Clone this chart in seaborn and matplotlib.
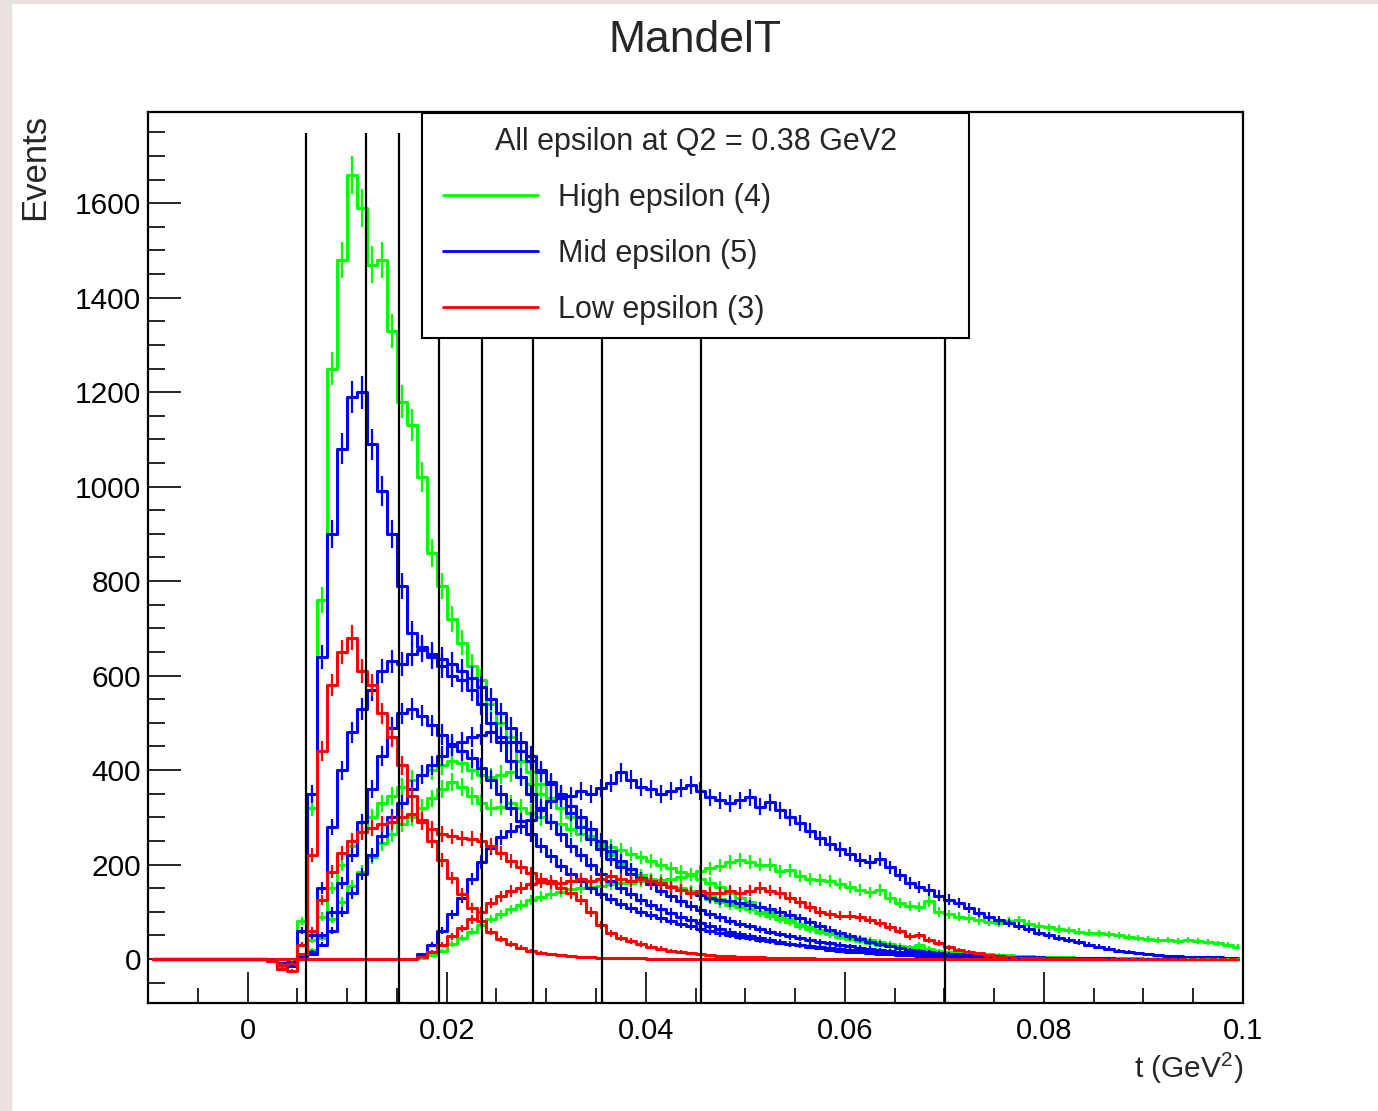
import numpy as np
import pandas as pd
import matplotlib
matplotlib.use('Agg')
import matplotlib.pyplot as plt
import seaborn as sns
from matplotlib.lines import Line2D
from matplotlib.legend_handler import HandlerLine2D
from matplotlib.patches import Rectangle
from matplotlib.ticker import MultipleLocator

sns.set_theme(style='ticks')
plt.rcParams['font.family'] = ['Liberation Sans', 'DejaVu Sans']
plt.rcParams['mathtext.default'] = 'regular'

# histogram bins: 0.001 GeV^2 wide, t from -0.01 to 0.1 (bins below 0 are empty)
t_centers = np.round(np.arange(-0.0095, 0.1, 0.001), 4)
empty_bins = [0] * 10

# High epsilon (4 settings)
high_1 = [0, 0, -5, -15, -10, 80, 320, 760, 1250, 1480,
          1660, 1590, 1470, 1480, 1330, 1180, 1130, 1020, 860, 790,
          720, 670, 620, 590, 540, 500, 470, 420, 395, 370,
          340, 320, 300, 280, 260, 240, 220, 200, 190, 178,
          170, 162, 155, 148, 142, 135, 128, 120, 115, 110,
          105, 100, 96, 85, 78, 70, 64, 58, 55, 50,
          46, 43, 40, 35, 30, 26, 24, 22, 20, 18,
          16, 14, 12, 11, 10, 9, 8, 7, 6, 5,
          5, 4, 4, 3, 3, 3, 2, 2, 2, 2,
          1, 1, 1, 1, 1, 1, 1, 1, 1, 1]
high_2 = [0, 0, -3, -10, -8, 10, 40, 90, 150, 200,
          240, 270, 300, 330, 345, 365, 380, 390, 400, 410,
          420, 415, 400, 390, 385, 390, 395, 385, 370, 350,
          335, 320, 300, 280, 260, 240, 222, 205, 190, 178,
          168, 160, 155, 150, 145, 140, 135, 128, 120, 112,
          105, 98, 92, 85, 78, 70, 64, 58, 52, 47,
          42, 38, 34, 30, 27, 24, 21, 19, 17, 15,
          13, 12, 10, 9, 8, 7, 6, 5, 5, 4,
          4, 3, 3, 3, 2, 2, 2, 2, 1, 1,
          1, 1, 1, 1, 1, 1, 1, 0, 0, 0]
high_3 = [0, 0, -3, -8, -5, 5, 20, 45, 85, 120,
          155, 185, 215, 245, 265, 285, 300, 320, 340, 360,
          375, 365, 345, 330, 320, 322, 330, 320, 310, 300,
          290, 285, 275, 265, 255, 245, 238, 230, 222, 215,
          208, 200, 192, 185, 178, 170, 162, 152, 140, 130,
          120, 110, 100, 92, 85, 75, 68, 62, 56, 52,
          48, 44, 40, 36, 32, 28, 25, 30, 22, 15,
          12, 11, 10, 9, 8, 7, 6, 6, 5, 5,
          4, 4, 3, 3, 3, 2, 2, 2, 2, 1,
          1, 1, 1, 1, 1, 1, 1, 1, 0, 0]
high_4 = [0, 0, 0, 0, 0, 0, 0, 0, 0, 0,
          0, 0, 0, 0, 0, 0, 0, 2, 8, 18,
          32, 45, 58, 72, 85, 95, 105, 115, 125, 132,
          138, 143, 148, 150, 152, 155, 158, 160, 162, 165,
          165, 168, 170, 174, 180, 186, 192, 198, 205, 210,
          205, 200, 200, 186, 188, 176, 170, 168, 165, 158,
          152, 146, 141, 146, 130, 118, 112, 110, 122, 100,
          95, 90, 86, 82, 78, 76, 80, 83, 75, 70,
          67, 64, 61, 58, 56, 55, 52, 50, 47, 45,
          43, 41, 40, 39, 40, 38, 36, 33, 30, 26]

# Mid epsilon (5 settings)
mid_1 = [0, 0, -5, -20, -15, 60, 350, 640, 900, 1080,
         1190, 1200, 1090, 990, 900, 790, 690, 660, 640, 620,
         600, 590, 570, 540, 500, 460, 420, 385, 350, 320,
         290, 265, 240, 220, 200, 180, 165, 150, 138, 126,
         115, 106, 98, 90, 83, 76, 70, 64, 58, 53,
         48, 44, 40, 36, 32, 29, 26, 23, 20, 18,
         16, 14, 12, 11, 10, 9, 8, 7, 6, 5,
         5, 4, 4, 3, 3, 3, 2, 2, 2, 2,
         1, 1, 1, 1, 1, 1, 0, 0, 0, 0,
         0, 0, 0, 0, 0, 0, 0, 0, 0, 0]
mid_2 = [0, 0, -3, -12, -10, 5, 50, 150, 280, 400,
         480, 530, 570, 610, 630, 625, 645, 655, 645, 635,
         625, 610, 595, 575, 550, 520, 490, 460, 430, 400,
         375, 350, 325, 300, 275, 250, 228, 208, 190, 172,
         158, 145, 133, 122, 112, 103, 95, 88, 81, 75,
         69, 63, 58, 53, 48, 44, 40, 36, 33, 30,
         27, 24, 22, 20, 18, 16, 14, 12, 11, 10,
         9, 8, 7, 6, 5, 5, 4, 4, 3, 3,
         2, 2, 2, 2, 1, 1, 1, 1, 1, 1,
         1, 1, 0, 0, 0, 0, 0, 0, 0, 0]
mid_3 = [0, 0, -3, -10, -8, 0, 15, 50, 100, 160,
         220, 290, 360, 430, 490, 520, 530, 515, 495, 475,
         455, 440, 425, 405, 380, 350, 320, 292, 265, 240,
         218, 198, 180, 165, 150, 138, 127, 117, 108, 100,
         93, 86, 80, 74, 69, 64, 59, 55, 51, 47,
         44, 41, 38, 35, 32, 30, 28, 26, 24, 22,
         20, 18, 16, 14, 12, 11, 10, 9, 8, 7,
         6, 5, 5, 4, 4, 3, 3, 3, 2, 2,
         2, 2, 1, 1, 1, 1, 0, 0, 0, 0,
         0, 0, 0, 0, 0, 0, 0, 0, 0, 0]
mid_4 = [0, 0, -2, -8, -6, 0, 10, 30, 60, 100,
         140, 180, 220, 260, 300, 330, 360, 390, 410, 430,
         450, 460, 470, 475, 480, 470, 460, 440, 420, 395,
         370, 340, 310, 280, 255, 232, 212, 195, 180, 172,
         165, 158, 152, 146, 140, 135, 130, 126, 122, 118,
         114, 110, 106, 100, 94, 86, 78, 70, 62, 55,
         48, 42, 36, 32, 28, 24, 20, 17, 15, 13,
         11, 10, 9, 8, 7, 6, 5, 5, 4, 4,
         3, 3, 3, 2, 2, 2, 2, 1, 1, 1,
         1, 1, 1, 1, 0, 0, 0, 0, 0, 0]
mid_5 = [0, 0, 0, 0, 0, 0, 0, 0, 0, 0,
         0, 0, 0, 0, 0, 0, 0, 10, 30, 60,
         95, 130, 170, 205, 235, 258, 272, 282, 295, 315,
         335, 348, 345, 355, 350, 362, 372, 395, 380, 365,
         360, 350, 356, 362, 368, 355, 342, 336, 330, 336,
         342, 322, 332, 315, 300, 288, 272, 256, 244, 232,
         222, 210, 205, 212, 194, 178, 162, 152, 146, 134,
         126, 118, 108, 98, 90, 82, 76, 70, 64, 56,
         50, 44, 40, 36, 30, 26, 22, 18, 15, 12,
         10, 8, 7, 6, 5, 5, 4, 4, 3, 3]

# Low epsilon (3 settings)
low_1 = [0, 0, -5, -20, -25, 30, 220, 440, 580, 650,
         680, 610, 580, 520, 470, 410, 345, 295, 250, 210,
         172, 138, 108, 80, 58, 42, 32, 24, 17, 13,
         10, 8, 6, 5, 4, 3, 3, 2, 2, 2,
         1, 1, 1, 1, 1, 0, 0, 0, 0, 0,
         0, 0, 0, 0, 0, 0, 0, 0, 0, 0,
         0, 0, 0, 0, 0, 0, 0, 0, 0, 0,
         0, 0, 0, 0, 0, 0, 0, 0, 0, 0,
         0, 0, 0, 0, 0, 0, 0, 0, 0, 0,
         0, 0, 0, 0, 0, 0, 0, 0, 0, 0]
low_2 = [0, 0, -3, -12, -10, 10, 60, 125, 185, 225,
         250, 268, 278, 285, 290, 300, 308, 290, 275, 265,
         260, 256, 255, 250, 240, 225, 208, 195, 182, 170,
         160, 150, 140, 125, 100, 72, 55, 45, 38, 32,
         26, 22, 18, 15, 12, 10, 8, 7, 6, 5,
         4, 4, 3, 3, 2, 2, 2, 1, 1, 1,
         0, 0, 0, 0, 0, 0, 0, 0, 0, 0,
         0, 0, 0, 0, 0, 0, 0, 0, 0, 0,
         0, 0, 0, 0, 0, 0, 0, 0, 0, 0,
         0, 0, 0, 0, 0, 0, 0, 0, 0, 0]
low_3 = [0, 0, 0, 0, 0, 0, 0, 0, 0, 0,
         0, 0, 0, 0, 0, 0, 0, 5, 15, 30,
         48, 65, 84, 100, 118, 133, 144, 150, 158, 163,
         165, 160, 165, 170, 166, 170, 175, 170, 166, 170,
         165, 160, 152, 146, 140, 144, 140, 140, 145, 140,
         145, 150, 145, 140, 130, 120, 110, 100, 95, 92,
         92, 88, 83, 76, 68, 60, 48, 50, 40, 34,
         25, 19, 15, 12, 8, 5, 4, 3, 2, 2,
         1, 1, 1, 1, 1, 1, 0, 0, 0, 0,
         0, 0, 0, 0, 0, 0, 0, 0, 0, 0]

# t-bin boundaries drawn as black vertical lines
t_bin_edges = [0.0059, 0.0119, 0.0152, 0.0192, 0.0236, 0.0287, 0.0356, 0.0456, 0.0701]
edge_line_top = 1748

legend_labels = ['High epsilon (4)', 'Mid epsilon (5)', 'Low epsilon (3)']
legend_title = 'All epsilon at Q2 = 0.38 GeV2'
y_ticks = [0, 200, 400, 600, 800, 1000, 1200, 1400, 1600]
y_tick_labels = ['0', '200', '400', '600', '800', '1000', '1200', '1400', '1600']
x_ticks = [0, 0.02, 0.04, 0.06, 0.08, 0.1]
x_tick_labels = ['0', '0.02', '0.04', '0.06', '0.08', '0.1']

green, blue, red = '#00ff00', '#0000ff', '#ff0000'
series = [('high_1', green, high_1), ('high_2', green, high_2),
          ('high_3', green, high_3), ('high_4', green, high_4),
          ('mid_1', blue, mid_1), ('mid_2', blue, mid_2), ('mid_3', blue, mid_3),
          ('mid_4', blue, mid_4), ('mid_5', blue, mid_5),
          ('low_1', red, low_1), ('low_2', red, low_2), ('low_3', red, low_3)]

frames = []
for name, color, vals in series:
    frames.append(pd.DataFrame({'t': t_centers,
                                'events': empty_bins + list(vals),
                                'setting': name}))
df = pd.concat(frames, ignore_index=True)
palette = {name: color for name, color, _ in series}
order = [name for name, _, _ in series]

W, H = 1378, 1111
fig = plt.figure(figsize=(W / 100, H / 100), dpi=100, facecolor='white')
# light frame strips of the original screenshot
fig.patches.append(Rectangle((0, 0), 11 / W, 1, transform=fig.transFigure,
                             color='#e8e1e0', zorder=-1))
fig.patches.append(Rectangle((0, 1 - 3 / H), 1, 3 / H, transform=fig.transFigure,
                             color='#e8e1e0', zorder=-1))

ax = fig.add_axes([148 / W, 1 - 1003 / H, (1243 - 148) / W, (1003 - 112) / H])
ax.set_facecolor('white')

sns.lineplot(data=df, x='t', y='events', hue='setting', hue_order=order,
             palette=palette, drawstyle='steps-mid', estimator=None, sort=False,
             legend=False, linewidth=2.2, ax=ax)

# statistical error bars, drawn in the same order (red ends on top)
for name, color, vals in series:
    sub = df[df['setting'] == name]
    ax.errorbar(sub['t'], sub['events'], yerr=np.sqrt(np.abs(sub['events'])),
                fmt='none', ecolor=color, elinewidth=1.6)

ax.set_xlim(-0.01, 0.1)
ax.set_ylim(-93, 1793)
ax.vlines(t_bin_edges, -93, edge_line_top, colors='black', linewidth=1.6, zorder=3)

ax.set_xticks(x_ticks)
ax.set_xticklabels(x_tick_labels)
ax.set_yticks(y_ticks)
ax.set_yticklabels(y_tick_labels)
ax.xaxis.set_minor_locator(MultipleLocator(0.005))
ax.yaxis.set_minor_locator(MultipleLocator(50))
ax.tick_params(axis='both', which='both', direction='in', top=False, right=False,
               width=1.2, color='black', labelcolor='black')
ax.tick_params(axis='y', which='major', length=24, pad=5, labelsize=21.5)
ax.tick_params(axis='y', which='minor', length=12)
ax.tick_params(axis='x', which='major', length=22, pad=10, labelsize=21)
ax.tick_params(axis='x', which='minor', length=11)
for s in ax.spines.values():
    s.set_linewidth(1.6)
    s.set_color('black')
ax.set_xlabel('')
ax.set_ylabel('')

fs_leg = 22
fs_px = fs_leg * 100 / 72
pad_px = 0.45 * fs_px
handles = [Line2D([], [], color=c, linewidth=2) for c in (green, blue, red)]
leg = ax.legend(handles, legend_labels, title=legend_title, loc='upper left',
                bbox_to_anchor=(422 / W, 1 - 335 / H, (969 - 422) / W, 222 / H),
                bbox_transform=fig.transFigure, mode='expand', borderaxespad=0,
                fontsize=fs_leg, title_fontsize=fs_leg, frameon=True, fancybox=False,
                framealpha=1, edgecolor='black', borderpad=0.45,
                handlelength=(538 - 422 - pad_px) / fs_px, handletextpad=20 / fs_px,
                labelspacing=0.85,
                handler_map={Line2D: HandlerLine2D(xpad=(443 - 422 - pad_px) / fs_px)})
leg.get_frame().set_linewidth(1.5)
leg.set_zorder(5)

fig.text(695 / W, 1 - 40 / H, 'MandelT', ha='center', va='center', fontsize=32)
fig.text(35 / W, 1 - 167 / H, 'Events', ha='center', va='center', rotation=90,
         fontsize=25)
fig.text(1243 / W, 1 - 1068 / H, 't (GeV$^{2}$)', ha='right', va='center', fontsize=21.5)

fig.savefig('out.png', dpi=100, facecolor=fig.get_facecolor())
